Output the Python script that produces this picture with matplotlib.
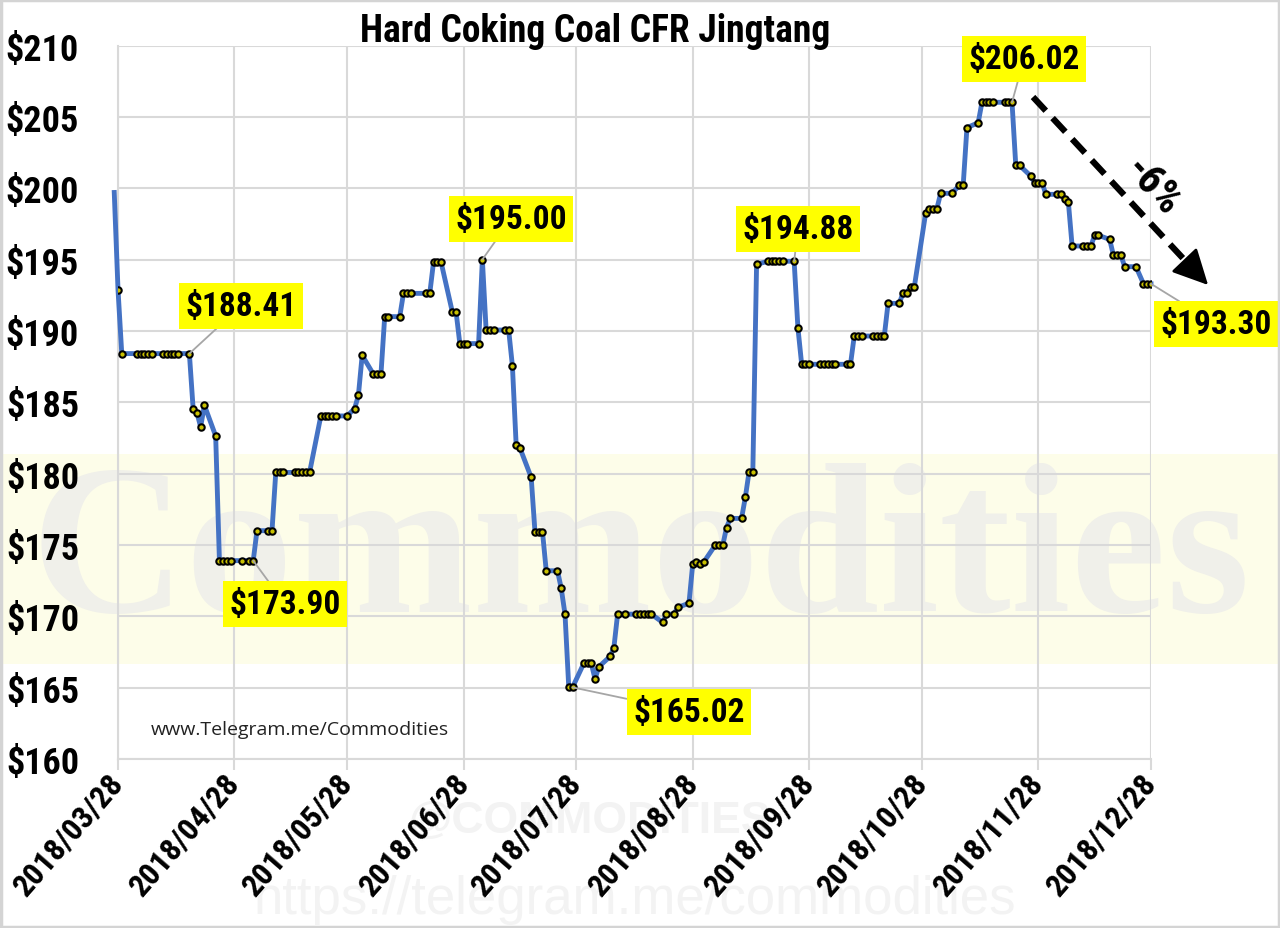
import matplotlib
matplotlib.use("Agg")
import matplotlib.pyplot as plt
import matplotlib.dates as mdates
from matplotlib.lines import Line2D
from matplotlib.patches import Rectangle
import pandas as pd


# =========================
# DATA
# =========================

title = "Hard Coking Coal CFR Jingtang"

# first entry sits just before the axis start (only its line shows)
price_dates = [
    "03/27", "03/28", "03/29",
    "04/02", "04/03", "04/04", "04/05", "04/06",
    "04/09", "04/10", "04/11", "04/12", "04/13",
    "04/16", "04/17", "04/18", "04/19", "04/20",
    "04/23", "04/24", "04/25", "04/26", "04/27",
    "04/30", "05/02", "05/03", "05/04",
    "05/07", "05/08", "05/09", "05/10", "05/11",
    "05/14", "05/15", "05/16", "05/17", "05/18",
    "05/21", "05/22", "05/23", "05/24", "05/25",
    "05/28", "05/30", "05/31", "06/01",
    "06/04", "06/05", "06/06", "06/07", "06/08",
    "06/11", "06/12", "06/13", "06/14",
    "06/18", "06/19", "06/20", "06/21", "06/22",
    "06/25", "06/26", "06/27", "06/28", "06/29",
    "07/02", "07/03", "07/04", "07/05", "07/06",
    "07/09", "07/10", "07/11", "07/12", "07/13",
    "07/16", "07/17", "07/18", "07/19", "07/20",
    "07/23", "07/24", "07/25", "07/26", "07/27",
    "07/30", "07/31", "08/01", "08/02", "08/03",
    "08/06", "08/07", "08/08", "08/10",
    "08/13", "08/14", "08/15", "08/16", "08/17",
    "08/20", "08/21", "08/23", "08/24",
    "08/27", "08/28", "08/29", "08/30", "08/31",
    "09/03", "09/04", "09/05", "09/06", "09/07",
    "09/10", "09/11", "09/12", "09/13", "09/14",
    "09/17", "09/18", "09/19", "09/20", "09/21",
    "09/24", "09/25", "09/26", "09/27", "09/28",
    "10/01", "10/02", "10/03", "10/04", "10/05",
    "10/08", "10/09", "10/10", "10/11", "10/12",
    "10/15", "10/16", "10/17", "10/18", "10/19",
    "10/22", "10/23", "10/24", "10/25", "10/26",
    "10/29", "10/30", "10/31", "11/01", "11/02",
    "11/05", "11/07", "11/08", "11/09",
    "11/12", "11/13", "11/14", "11/15", "11/16",
    "11/19", "11/20", "11/21", "11/22", "11/23",
    "11/26", "11/27", "11/28", "11/29", "11/30",
    "12/03", "12/04", "12/05", "12/06", "12/07",
    "12/10", "12/11", "12/12", "12/13", "12/14",
    "12/17", "12/18", "12/19", "12/20", "12/21",
    "12/24", "12/26", "12/27", "12/28",
]

price_values = [
    199.70, 192.90, 188.41,
    188.41, 188.41, 188.41, 188.41, 188.41,
    188.41, 188.41, 188.41, 188.41, 188.41,
    188.41, 184.56, 184.28, 183.27, 184.79,
    182.64, 173.90, 173.90, 173.90, 173.90,
    173.90, 173.90, 173.90, 176.00,
    176.00, 176.00, 180.08, 180.08, 180.08,
    180.08, 180.08, 180.08, 180.08, 180.08,
    184.04, 184.04, 184.04, 184.04, 184.04,
    184.04, 184.56, 185.49, 188.29,
    186.96, 186.96, 186.96, 191.00, 191.00,
    191.00, 192.63, 192.63, 192.63,
    192.63, 192.63, 194.83, 194.83, 194.83,
    191.33, 191.33, 189.11, 189.11, 189.11,
    189.11, 195.00, 190.06, 190.06, 190.06,
    190.06, 190.06, 187.54, 181.99, 181.80,
    179.73, 175.94, 175.94, 175.94, 173.19,
    173.19, 171.95, 170.15, 165.02, 165.02,
    166.70, 166.70, 166.70, 165.60, 166.46,
    167.19, 167.77, 170.15, 170.15,
    170.15, 170.15, 170.15, 170.15, 170.15,
    169.57, 170.15, 170.15, 170.62,
    170.92, 173.66, 173.78, 173.66, 173.82,
    174.99, 174.99, 174.99, 176.22, 176.86,
    176.86, 178.33, 180.12, 180.12, 194.66,
    194.88, 194.88, 194.88, 194.88, 194.88,
    194.88, 190.23, 187.66, 187.66, 187.66,
    187.66, 187.66, 187.66, 187.66, 187.66,
    187.66, 187.66, 189.64, 189.64, 189.64,
    189.64, 189.64, 189.64, 189.64, 191.93,
    191.93, 192.68, 192.68, 193.10, 193.10,
    198.24, 198.57, 198.57, 198.57, 199.64,
    199.64, 200.20, 200.20, 204.24,
    204.59, 206.02, 206.02, 206.02, 206.02,
    206.02, 206.02, 206.02, 201.60, 201.60,
    200.85, 200.39, 200.39, 200.39, 199.57,
    199.57, 199.57, 199.27, 199.03, 195.95,
    195.95, 195.95, 195.95, 196.70, 196.70,
    196.41, 195.29, 195.29, 195.29, 194.50,
    194.50, 193.30, 193.30, 193.30,
]

# labelled points
callout_dates = ["04/16", "05/03", "07/03", "07/27", "09/24", "11/21", "12/28"]
callout_values = [188.41, 173.90, 195.00, 165.02, 194.88, 206.02, 193.30]
callout_texts = ["$188.41", "$173.90", "$195.00", "$165.02",
                 "$194.88", "$206.02", "$193.30"]

tick_dates = ["03/28", "04/28", "05/28", "06/28", "07/28",
              "08/28", "09/28", "10/28", "11/28", "12/28"]
y_ticks = [160, 165, 170, 175, 180, 185, 190, 195, 200, 205, 210]

change_text = "-6%"
source_text = "www.Telegram.me/Commodities"


# =========================
# HELPERS
# =========================

W, H = 1280, 929
NARROW = ["Roboto Condensed", "Liberation Sans", "DejaVu Sans"]


def to_dates(items):
    return pd.to_datetime(["2018/" + d for d in items], format="%Y/%m/%d")


def fx(x):
    return x / W


def fy(y):
    return 1 - y / H


# =========================
# FIGURE
# =========================

fig = plt.figure(figsize=(W / 100, H / 100), dpi=100)
fig.patch.set_facecolor("white")

# faint background watermark
fig.add_artist(Rectangle((0, fy(665)), 1, (665 - 455) / H,
                         transform=fig.transFigure,
                         facecolor="#fdfde9", edgecolor="none", zorder=0))
fig.text(fx(640), fy(560), "Commodities", fontsize=155,
         family=["Liberation Serif", "DejaVu Serif"], fontweight="bold",
         color="#f0f0ea", ha="center", va="center", zorder=0.5)
fig.text(fx(590), fy(822), "@COMMODITIES", fontsize=32,
         family=["Liberation Sans", "DejaVu Sans"], fontweight="bold",
         color="#f3f3f3", ha="center", va="center", zorder=0.5)
fig.text(fx(635), fy(900), "https://telegram.me/commodities", fontsize=38,
         family=["Liberation Sans", "DejaVu Sans"],
         color="#f3f3f3", ha="center", va="center", zorder=0.5)

ax = fig.add_axes([fx(118), fy(760), fx(1151) - fx(118), fy(46.5) - fy(760)])
ax.set_facecolor("none")
ax.set_zorder(2)

dates = to_dates(price_dates)

ax.plot(dates, price_values, color="#4472c4", lw=3.5,
        solid_joinstyle="round", clip_on=False, zorder=3)
ax.plot(dates[1:], price_values[1:], ls="none", marker="o",
        markersize=4.6, markerfacecolor="#c8c000",
        markeredgecolor="black", markeredgewidth=1.5, zorder=4)

ax.set_xlim(to_dates(["03/28"])[0], to_dates(["12/28"])[0])
ax.set_ylim(160, 210)

ax.set_xticks(to_dates(tick_dates))
ax.xaxis.set_major_formatter(mdates.DateFormatter("%Y/%m/%d"))
ax.set_yticks(y_ticks)
ax.set_yticklabels([f"${v}" for v in y_ticks])

ax.grid(True, color="#d9d9d9", lw=1.5)
ax.set_axisbelow(True)
for side in ["top", "right"]:
    ax.spines[side].set_visible(False)
for side in ["left", "bottom"]:
    ax.spines[side].set_color("#d9d9d9")
    ax.spines[side].set_linewidth(1.5)

ax.tick_params(axis="x", length=8, width=1.5, color="#d9d9d9", pad=5)
ax.tick_params(axis="y", length=0, pad=28)

for lab in ax.get_yticklabels():
    lab.set_family(NARROW)
    lab.set_fontweight("bold")
    lab.set_fontsize(26)

for lab in ax.get_xticklabels():
    lab.set_family(NARROW)
    lab.set_fontweight("bold")
    lab.set_fontsize(23)
    lab.set_rotation(49)
    lab.set_rotation_mode("anchor")
    lab.set_ha("right")
    lab.set_va("center")

# =========================
# CALLOUTS
# =========================

box_centres = [(241, 307), (285, 605), (511, 220), (689, 713),
               (798, 230), (1024, 60), (1216, 325)]

for d, v, t, (bx, by) in zip(to_dates(callout_dates), callout_values,
                              callout_texts, box_centres):
    ax.annotate(t, xy=(d, v), xytext=(fx(bx), fy(by)),
                textcoords="figure fraction", ha="center", va="center",
                fontsize=24, fontweight="bold", family=NARROW,
                bbox=dict(boxstyle="square,pad=0.2", facecolor="#ffff00",
                          edgecolor="none"),
                arrowprops=dict(arrowstyle="-", color="#a6a6a6", lw=1.3,
                                shrinkA=0, shrinkB=0),
                annotation_clip=False, zorder=6)

# dashed trend arrow
fig.add_artist(Line2D([fx(1033), fx(1192)], [fy(98), fy(269)],
                      transform=fig.transFigure, color="black", lw=4.5,
                      linestyle=(0, (3, 1.6)), zorder=7))
ax.annotate("", xy=(fx(1210), fy(288)), xytext=(fx(1190), fy(267)),
            xycoords="figure fraction", textcoords="figure fraction",
            arrowprops=dict(arrowstyle="-|>,head_length=1.1,head_width=0.55",
                            color="black", lw=2, mutation_scale=20),
            annotation_clip=False, zorder=7)
fig.text(fx(1152), fy(187), change_text, fontsize=30, fontweight="bold",
         family=NARROW, rotation=-47, ha="center", va="center",
         rotation_mode="anchor", zorder=7)

# title and source
fig.text(fx(595), fy(31), title, fontsize=27, fontweight="bold",
         family=NARROW, ha="center", va="center")
fig.text(fx(300), fy(730), source_text, fontsize=14,
         family=["Open Sans", "DejaVu Sans"], color="#222222",
         ha="center", va="center", zorder=5)

# thin frame round the picture
fig.add_artist(Rectangle((0.001, 0.001), 0.998, 0.998,
                         transform=fig.transFigure, facecolor="none",
                         edgecolor="#d4d4d4", lw=2.5, zorder=10))

fig.savefig("out.png", dpi=100)
